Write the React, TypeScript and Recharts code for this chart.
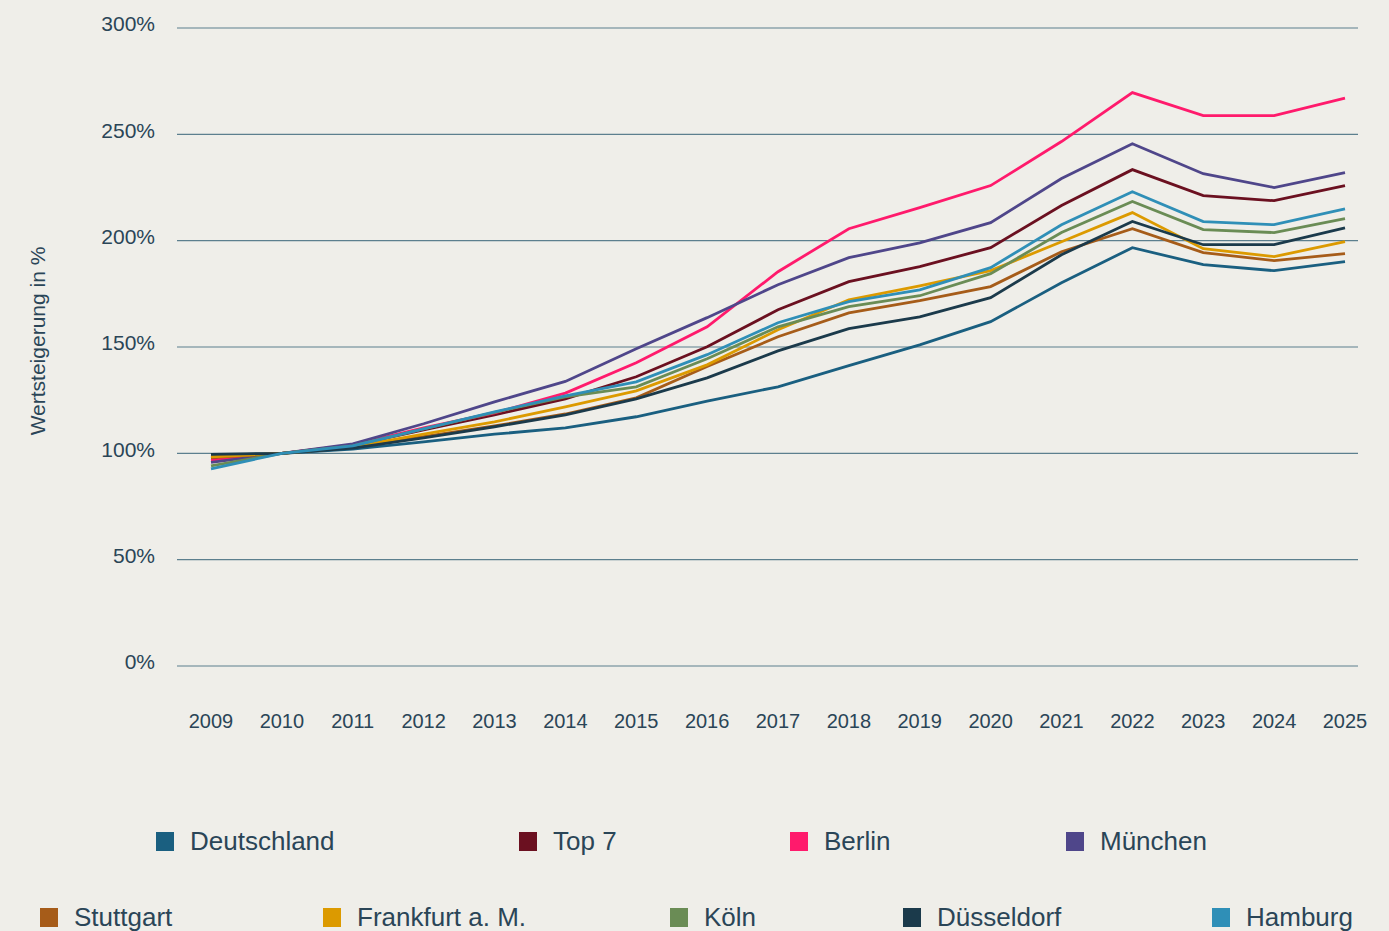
import React from 'react';
import { LineChart, Line, XAxis, YAxis, CartesianGrid } from 'recharts';

const years = ['2009','2010','2011','2012','2013','2014','2015','2016','2017','2018','2019','2020','2021','2022','2023','2024','2025'];

const deutschland = [99, 100, 102, 105.4, 109, 112, 117.2, 124.5, 131.3, 141.2, 151, 161.9, 180.2, 196.7, 188.7, 185.9, 190.1];
const top7 = [97.6, 100, 103.8, 111, 118.1, 125.6, 136, 150.1, 167.5, 180.7, 187.8, 196.7, 216.5, 233.4, 221.2, 218.8, 225.9];
const berlin = [96.8, 100, 104, 112, 119, 128.3, 142.6, 159.5, 185.4, 205.6, 215.5, 225.9, 246.6, 269.6, 258.8, 258.8, 267];
const muenchen = [95.7, 100, 104.5, 113.9, 124.2, 133.8, 149.2, 163.8, 179.3, 192, 199, 208.5, 229.2, 245.6, 231.5, 225, 232];
const stuttgart = [98, 100, 102.8, 107.8, 112.9, 118.5, 126.1, 140.8, 154.8, 166, 171.8, 178.4, 194.8, 205.6, 194.4, 190.6, 193.9];
const frankfurt = [98.4, 100, 103, 109, 114.8, 121.9, 129.4, 141.6, 158.1, 172.2, 178.8, 185.9, 199.5, 213.2, 196.2, 192.5, 199.5];
const koeln = [94.1, 100, 103.5, 111.5, 119.3, 126.5, 131.3, 144.5, 159.5, 169, 174.1, 184.5, 203.8, 218.4, 205.2, 203.8, 210.4];
const duesseldorf = [99.5, 100, 102.5, 107.3, 112.5, 118.1, 125.6, 135.5, 148.2, 158.6, 164.2, 173.2, 193.4, 209, 198.1, 198.1, 206];
const hamburg = [92.7, 100, 103.5, 111.5, 119.5, 127, 133.6, 146.4, 161.4, 171.3, 176.9, 187.3, 207.5, 223, 209, 207.5, 215];

const yTicks = [0, 50, 100, 150, 200, 250, 300];

const seriesNames = ['Deutschland','Top 7','Berlin','München','Stuttgart','Frankfurt a. M.','Köln','Düsseldorf','Hamburg'];
const seriesColors = ['#1a5f80','#6b1020','#ff1a6c','#4f468a','#a65c19','#dc9a00','#6a8c55','#1b3a4b','#2f8fb7'];
const seriesValues = [deutschland, top7, berlin, muenchen, stuttgart, frankfurt, koeln, duesseldorf, hamburg];

const data = years.map((y, i) => {
  const row: Record<string, any> = { year: y };
  seriesNames.forEach((n, k) => { row[n] = seriesValues[k][i]; });
  return row;
});

const TEXT = '#2a4557';
const FONT = '"Liberation Sans", Arial, sans-serif';

// legend layout (left px, row top px)
const legendLayout: Record<string, { left: number; top: number }> = {
  'Deutschland': { left: 156, top: 826 },
  'Top 7': { left: 519, top: 826 },
  'Berlin': { left: 790, top: 826 },
  'München': { left: 1066, top: 826 },
  'Stuttgart': { left: 40, top: 902 },
  'Frankfurt a. M.': { left: 323, top: 902 },
  'Köln': { left: 670, top: 902 },
  'Düsseldorf': { left: 903, top: 902 },
  'Hamburg': { left: 1212, top: 902 },
};

export default function App() {
  return (
    <div style={{ position: 'absolute', left: 0, top: 0, width: 1389, height: 931, background: '#efeee9', overflow: 'hidden' }}>
      <LineChart width={1389} height={931} data={data} margin={{ top: 28, right: 31, bottom: 235, left: 0 }}>
        <CartesianGrid horizontal={true} vertical={false} stroke="#5c7f8e" strokeWidth={1.2} />
        <XAxis
          dataKey="year"
          axisLine={false}
          tickLine={false}
          tickSize={0}
          tickMargin={48}
          padding={{ left: 34, right: 13 }}
          tick={{ fill: TEXT, fontSize: 20, fontFamily: FONT }}
          interval={0}
        />
        <YAxis
          domain={[0, 300]}
          ticks={yTicks}
          tickFormatter={(v: number) => `${v}%`}
          axisLine={false}
          tickLine={false}
          tickSize={0}
          tickMargin={22}
          width={177}
          tick={{ fill: TEXT, fontSize: 21, fontFamily: FONT, dy: -4 }}
          label={{ value: 'Wertsteigerung in %', angle: -90, position: 'insideLeft', offset: 38, dy: -6, style: { fill: TEXT, fontSize: 21, fontFamily: FONT, textAnchor: 'middle' } }}
        />
        {seriesNames.map((n, k) => (
          <Line
            key={n}
            type="linear"
            dataKey={n}
            stroke={seriesColors[k]}
            strokeWidth={2.8}
            dot={false}
            activeDot={false}
            isAnimationActive={false}
          />
        ))}
      </LineChart>
      {seriesNames.map((n, k) => (
        <div key={n} style={{ position: 'absolute', left: legendLayout[n].left, top: legendLayout[n].top, display: 'flex', alignItems: 'center', height: 30 }}>
          <div style={{ width: 18, height: 19, background: seriesColors[k] }} />
          <span style={{ marginLeft: 16, fontSize: 26, color: TEXT, fontFamily: FONT, whiteSpace: 'nowrap' }}>{n}</span>
        </div>
      ))}
    </div>
  );
}
